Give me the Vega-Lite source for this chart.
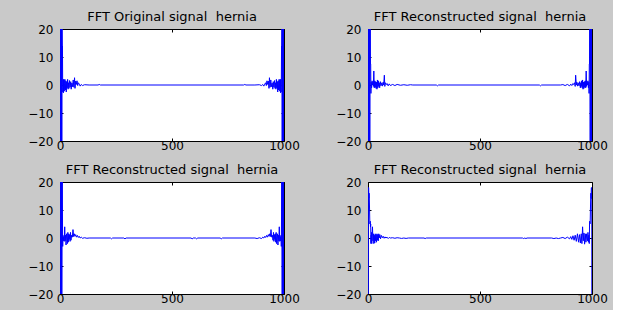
{
  "$schema": "https://vega.github.io/schema/vega-lite/v6.json",
  "background": "#c9c9c9",
  "padding": {"left": 27, "top": 10, "right": 5, "bottom": 5},
  "spacing": 11,
  "datasets": {
    "a": [
      {"x":1,"y":300},{"x":2,"y":-150},{"x":3,"y":120},{"x":4,"y":-90},{"x":5,"y":60},{"x":6,"y":-40},{"x":7,"y":30},{"x":8,"y":-25},{"x":9,"y":22},{"x":10,"y":14},{"x":11,"y":14},{"x":12,"y":-1},{"x":13,"y":-2.5},{"x":14,"y":1.8},{"x":15,"y":-2.8},{"x":16,"y":2},{"x":17,"y":-1.5},{"x":18,"y":1.9},{"x":19,"y":-2.2},{"x":20,"y":0.5},{"x":22,"y":2},{"x":24,"y":-1.8},{"x":26,"y":1.5},{"x":28,"y":-2.5},{"x":30,"y":1.2},{"x":32,"y":-1},{"x":34,"y":2},{"x":36,"y":-1.5},{"x":38,"y":0.8},{"x":40,"y":-1.2},{"x":42,"y":1.6},{"x":45,"y":-0.8},{"x":48,"y":1.2},{"x":50,"y":-1.5},{"x":53,"y":0.7},{"x":56,"y":-0.6},{"x":59,"y":1.8},{"x":62,"y":-0.8},{"x":65,"y":2.6},{"x":67,"y":-1.2},{"x":70,"y":1.4},{"x":73,"y":0.2},{"x":76,"y":1.5},{"x":79,"y":-0.2},{"x":82,"y":0.8},{"x":86,"y":0.3},{"x":90,"y":-0.4},{"x":95,"y":0.2},{"x":100,"y":-0.2},{"x":110,"y":0.1},{"x":130,"y":0},{"x":170,"y":0},{"x":175,"y":0.2},{"x":180,"y":0},{"x":500,"y":0},
      {"x":820,"y":0},{"x":825,"y":0.2},{"x":830,"y":0},{"x":870,"y":0},{"x":890,"y":0.1},{"x":900,"y":-0.2},{"x":905,"y":0.2},{"x":910,"y":-0.4},{"x":914,"y":0.3},{"x":918,"y":0.8},{"x":921,"y":-0.2},{"x":924,"y":1.5},{"x":927,"y":0.2},{"x":930,"y":1.4},{"x":933,"y":-1.2},{"x":935,"y":2.6},{"x":938,"y":-0.8},{"x":941,"y":1.8},{"x":944,"y":-0.6},{"x":947,"y":0.7},{"x":950,"y":-1.5},{"x":952,"y":1.2},{"x":955,"y":-0.8},{"x":958,"y":1.6},{"x":960,"y":-1.2},{"x":962,"y":0.8},{"x":964,"y":-1.5},{"x":966,"y":2},{"x":968,"y":-1},{"x":970,"y":1.2},{"x":972,"y":-2.5},{"x":974,"y":1.5},{"x":976,"y":-1.8},{"x":978,"y":2},{"x":980,"y":0.5},{"x":981,"y":-2.2},{"x":982,"y":1.9},{"x":983,"y":-1.5},{"x":984,"y":2},{"x":985,"y":-2.8},{"x":986,"y":1.8},{"x":987,"y":-2.5},{"x":988,"y":-1},{"x":989,"y":14},{"x":990,"y":14},{"x":991,"y":22},{"x":992,"y":-25},{"x":993,"y":30},{"x":994,"y":-40},{"x":995,"y":60},{"x":996,"y":-90},{"x":997,"y":120},{"x":998,"y":-150},{"x":999,"y":300},{"x":1000,"y":-150}
    ],
    "b": [
      {"x":1,"y":300},{"x":2,"y":-120},{"x":3,"y":-8},{"x":4,"y":90},{"x":5,"y":-60},{"x":6,"y":16},{"x":7,"y":40},{"x":8,"y":-30},{"x":9,"y":16},{"x":10,"y":25},{"x":11,"y":7.5},{"x":12,"y":7.5},{"x":13,"y":-3},{"x":14,"y":1},{"x":16,"y":-1},{"x":18,"y":1.5},{"x":20,"y":0},{"x":22,"y":1.2},{"x":24,"y":-0.5},{"x":26,"y":5},{"x":28,"y":-1},{"x":30,"y":1.5},{"x":32,"y":-0.8},{"x":34,"y":1.2},{"x":36,"y":-1.2},{"x":38,"y":1},{"x":40,"y":-1.5},{"x":42,"y":1.8},{"x":44,"y":-1},{"x":46,"y":1.5},{"x":48,"y":-0.5},{"x":50,"y":0.8},{"x":52,"y":-1},{"x":55,"y":1.2},{"x":58,"y":-0.3},{"x":62,"y":0.8},{"x":65,"y":-0.4},{"x":68,"y":1},{"x":70,"y":0},{"x":73,"y":3.5},{"x":75,"y":-0.5},{"x":78,"y":0.8},{"x":82,"y":0.2},{"x":86,"y":0.5},{"x":90,"y":-0.3},{"x":95,"y":0.4},{"x":100,"y":-0.2},{"x":110,"y":0.2},{"x":120,"y":-0.2},{"x":130,"y":0.2},{"x":145,"y":-0.1},{"x":160,"y":0.1},{"x":175,"y":-0.1},{"x":190,"y":0.1},{"x":200,"y":0},{"x":305,"y":0},{"x":310,"y":-0.3},{"x":315,"y":0},{"x":500,"y":0},
      {"x":765,"y":0},{"x":770,"y":-0.3},{"x":775,"y":0},{"x":860,"y":0},{"x":870,"y":0.15},{"x":880,"y":-0.2},{"x":890,"y":0.2},{"x":900,"y":-0.3},{"x":905,"y":0.3},{"x":910,"y":-0.2},{"x":914,"y":0.5},{"x":918,"y":0.2},{"x":922,"y":0.8},{"x":925,"y":-0.5},{"x":927,"y":3.5},{"x":930,"y":0},{"x":932,"y":1},{"x":935,"y":-0.4},{"x":938,"y":0.8},{"x":942,"y":-0.3},{"x":945,"y":1.2},{"x":948,"y":-1},{"x":950,"y":0.8},{"x":952,"y":-0.5},{"x":954,"y":1.5},{"x":956,"y":-1},{"x":958,"y":1.8},{"x":960,"y":-1.5},{"x":962,"y":1},{"x":964,"y":-1.2},{"x":966,"y":1.2},{"x":968,"y":-0.8},{"x":970,"y":1.5},{"x":972,"y":-1},{"x":974,"y":5},{"x":976,"y":-0.5},{"x":978,"y":1.2},{"x":980,"y":0},{"x":982,"y":1.5},{"x":984,"y":-1},{"x":986,"y":1},{"x":987,"y":-3},{"x":988,"y":7.5},{"x":989,"y":7.5},{"x":990,"y":25},{"x":991,"y":16},{"x":992,"y":-30},{"x":993,"y":40},{"x":994,"y":16},{"x":995,"y":-60},{"x":996,"y":90},{"x":997,"y":-8},{"x":998,"y":-120},{"x":999,"y":300},{"x":1000,"y":-120}
    ],
    "c": [
      {"x":1,"y":300},{"x":2,"y":-150},{"x":3,"y":16},{"x":4,"y":100},{"x":5,"y":-70},{"x":6,"y":16},{"x":7,"y":45},{"x":8,"y":-35},{"x":9,"y":8},{"x":10,"y":20},{"x":11,"y":7.5},{"x":12,"y":-3},{"x":13,"y":1},{"x":15,"y":-1},{"x":17,"y":0.5},{"x":19,"y":-1.2},{"x":21,"y":4},{"x":23,"y":-1},{"x":25,"y":1},{"x":27,"y":-2.5},{"x":29,"y":1.5},{"x":31,"y":0},{"x":33,"y":-2},{"x":35,"y":2},{"x":37,"y":-1.5},{"x":39,"y":1.5},{"x":41,"y":-0.5},{"x":43,"y":1.2},{"x":45,"y":-1.2},{"x":47,"y":2},{"x":49,"y":-0.8},{"x":52,"y":1},{"x":55,"y":0.3},{"x":58,"y":3},{"x":61,"y":0.5},{"x":64,"y":1.5},{"x":67,"y":0.6},{"x":70,"y":1.2},{"x":74,"y":0.3},{"x":78,"y":0.9},{"x":82,"y":0.2},{"x":86,"y":0.6},{"x":90,"y":0},{"x":95,"y":0.3},{"x":100,"y":-0.1},{"x":110,"y":0.1},{"x":120,"y":-0.1},{"x":130,"y":0},{"x":225,"y":0},{"x":230,"y":-0.3},{"x":235,"y":0},{"x":285,"y":0},{"x":290,"y":-0.3},{"x":295,"y":0},{"x":500,"y":0},
      {"x":585,"y":0},{"x":590,"y":-0.3},{"x":595,"y":0},{"x":605,"y":0},{"x":610,"y":-0.3},{"x":615,"y":0},{"x":715,"y":0},{"x":720,"y":-0.3},{"x":725,"y":0},{"x":870,"y":0},{"x":880,"y":-0.2},{"x":890,"y":0.1},{"x":900,"y":-0.2},{"x":905,"y":0.3},{"x":910,"y":0},{"x":914,"y":0.6},{"x":918,"y":0.2},{"x":922,"y":0.9},{"x":926,"y":0.3},{"x":930,"y":1.2},{"x":933,"y":0.6},{"x":936,"y":1.5},{"x":939,"y":0.5},{"x":942,"y":3},{"x":945,"y":0.3},{"x":948,"y":1},{"x":951,"y":-0.8},{"x":953,"y":2},{"x":955,"y":-1.2},{"x":957,"y":1.2},{"x":959,"y":-0.5},{"x":961,"y":1.5},{"x":963,"y":-1.5},{"x":965,"y":2},{"x":967,"y":-2},{"x":969,"y":0},{"x":971,"y":1.5},{"x":973,"y":-2.5},{"x":975,"y":1},{"x":977,"y":-1},{"x":979,"y":4},{"x":981,"y":-1.2},{"x":983,"y":0.5},{"x":985,"y":-1},{"x":987,"y":1},{"x":988,"y":-3},{"x":989,"y":7.5},{"x":990,"y":20},{"x":991,"y":8},{"x":992,"y":-35},{"x":993,"y":45},{"x":994,"y":16},{"x":995,"y":-70},{"x":996,"y":100},{"x":997,"y":16},{"x":998,"y":-150},{"x":999,"y":300},{"x":1000,"y":-15}
    ],
    "d": [
      {"x":1,"y":-120},{"x":2,"y":18},{"x":3,"y":18},{"x":4,"y":14},{"x":5,"y":16},{"x":6,"y":14},{"x":7,"y":10},{"x":8,"y":6},{"x":9,"y":5},{"x":10,"y":6},{"x":11,"y":4},{"x":12,"y":5},{"x":13,"y":-2},{"x":14,"y":1},{"x":15,"y":-1.5},{"x":16,"y":2},{"x":17,"y":-2},{"x":18,"y":0.5},{"x":20,"y":4},{"x":22,"y":-1},{"x":24,"y":1.5},{"x":26,"y":-2},{"x":28,"y":1},{"x":30,"y":-1.8},{"x":32,"y":1.5},{"x":34,"y":-1},{"x":36,"y":1.2},{"x":38,"y":-1.5},{"x":40,"y":1.5},{"x":42,"y":-0.8},{"x":44,"y":1.2},{"x":46,"y":-1},{"x":48,"y":1.5},{"x":50,"y":0},{"x":53,"y":1.2},{"x":56,"y":-0.3},{"x":60,"y":0.9},{"x":64,"y":0.1},{"x":68,"y":0.6},{"x":72,"y":-0.1},{"x":76,"y":0.4},{"x":80,"y":0},{"x":85,"y":0.3},{"x":90,"y":-0.2},{"x":95,"y":0.2},{"x":100,"y":0},{"x":110,"y":0.1},{"x":120,"y":-0.1},{"x":130,"y":0.1},{"x":140,"y":0},{"x":150,"y":-0.15},{"x":160,"y":0},{"x":170,"y":-0.15},{"x":180,"y":0},{"x":250,"y":0},{"x":255,"y":-0.2},{"x":260,"y":0},{"x":500,"y":0},
      {"x":690,"y":0},{"x":695,"y":-0.2},{"x":700,"y":0},{"x":705,"y":-0.2},{"x":710,"y":0},{"x":820,"y":0},{"x":830,"y":-0.2},{"x":840,"y":0},{"x":850,"y":-0.2},{"x":860,"y":0},{"x":870,"y":0.2},{"x":880,"y":-0.2},{"x":890,"y":0.3},{"x":900,"y":-0.3},{"x":905,"y":0.5},{"x":910,"y":-0.5},{"x":915,"y":0.8},{"x":920,"y":-0.8},{"x":925,"y":1},{"x":930,"y":-1.2},{"x":935,"y":1.5},{"x":940,"y":-1.5},{"x":944,"y":1.2},{"x":948,"y":-1.8},{"x":952,"y":1.5},{"x":955,"y":-2},{"x":958,"y":4},{"x":961,"y":-1},{"x":964,"y":1.8},{"x":967,"y":-2.2},{"x":970,"y":1.5},{"x":973,"y":-1.5},{"x":976,"y":1.5},{"x":978,"y":0},{"x":980,"y":-1},{"x":982,"y":2},{"x":984,"y":-1.5},{"x":986,"y":1},{"x":988,"y":-2},{"x":989,"y":5},{"x":990,"y":6},{"x":991,"y":5},{"x":992,"y":6},{"x":993,"y":10},{"x":994,"y":14},{"x":995,"y":16},{"x":996,"y":14},{"x":997,"y":18},{"x":998,"y":18},{"x":999,"y":18},{"x":1000,"y":-120}
    ]
  },
  "vconcat": [
    {
      "spacing": 35,
      "hconcat": [
        {
          "title": "FFT Original signal\u00a0 hernia",
          "width": 224, "height": 112,
          "data": {"name": "a"},
          "layer": [
            {"mark": {"type": "line", "clip": true, "color": "#0000ff", "strokeWidth": 1},
             "encoding": {
               "x": {"field": "x", "type": "quantitative", "scale": {"domain": [0, 1000], "nice": false}, "axis": {"values": [0, 500, 1000], "format": "d", "title": null}},
               "y": {"field": "y", "type": "quantitative", "scale": {"domain": [-20, 20], "nice": false}, "axis": {"values": [-20, -10, 0, 10, 20], "title": null}}}},
            {"mark": {"type": "point", "clip": true, "opacity": 0},
             "encoding": {
               "x": {"field": "x", "type": "quantitative", "axis": {"orient": "top", "values": [0, 500, 1000], "labels": false, "title": null}},
               "y": {"field": "y", "type": "quantitative", "axis": {"orient": "right", "values": [-20, -10, 0, 10, 20], "labels": false, "title": null}}}}
          ],
          "resolve": {"axis": {"x": "independent", "y": "independent"}}
        },
        {
          "title": "FFT Reconstructed signal\u00a0 hernia",
          "width": 224, "height": 112,
          "data": {"name": "b"},
          "layer": [
            {"mark": {"type": "line", "clip": true, "color": "#0000ff", "strokeWidth": 1},
             "encoding": {
               "x": {"field": "x", "type": "quantitative", "scale": {"domain": [0, 1000], "nice": false}, "axis": {"values": [0, 500, 1000], "format": "d", "title": null}},
               "y": {"field": "y", "type": "quantitative", "scale": {"domain": [-20, 20], "nice": false}, "axis": {"values": [-20, -10, 0, 10, 20], "title": null}}}},
            {"mark": {"type": "point", "clip": true, "opacity": 0},
             "encoding": {
               "x": {"field": "x", "type": "quantitative", "axis": {"orient": "top", "values": [0, 500, 1000], "labels": false, "title": null}},
               "y": {"field": "y", "type": "quantitative", "axis": {"orient": "right", "values": [-20, -10, 0, 10, 20], "labels": false, "title": null}}}}
          ],
          "resolve": {"axis": {"x": "independent", "y": "independent"}}
        }
      ]
    },
    {
      "spacing": 35,
      "hconcat": [
        {
          "title": "FFT Reconstructed signal\u00a0 hernia",
          "width": 224, "height": 112,
          "data": {"name": "c"},
          "layer": [
            {"mark": {"type": "line", "clip": true, "color": "#0000ff", "strokeWidth": 1},
             "encoding": {
               "x": {"field": "x", "type": "quantitative", "scale": {"domain": [0, 1000], "nice": false}, "axis": {"values": [0, 500, 1000], "format": "d", "title": null}},
               "y": {"field": "y", "type": "quantitative", "scale": {"domain": [-20, 20], "nice": false}, "axis": {"values": [-20, -10, 0, 10, 20], "title": null}}}},
            {"mark": {"type": "point", "clip": true, "opacity": 0},
             "encoding": {
               "x": {"field": "x", "type": "quantitative", "axis": {"orient": "top", "values": [0, 500, 1000], "labels": false, "title": null}},
               "y": {"field": "y", "type": "quantitative", "axis": {"orient": "right", "values": [-20, -10, 0, 10, 20], "labels": false, "title": null}}}}
          ],
          "resolve": {"axis": {"x": "independent", "y": "independent"}}
        },
        {
          "title": "FFT Reconstructed signal\u00a0 hernia",
          "width": 224, "height": 112,
          "data": {"name": "d"},
          "layer": [
            {"mark": {"type": "line", "clip": true, "color": "#0000ff", "strokeWidth": 1},
             "encoding": {
               "x": {"field": "x", "type": "quantitative", "scale": {"domain": [0, 1000], "nice": false}, "axis": {"values": [0, 500, 1000], "format": "d", "title": null}},
               "y": {"field": "y", "type": "quantitative", "scale": {"domain": [-20, 20], "nice": false}, "axis": {"values": [-20, -10, 0, 10, 20], "title": null}}}},
            {"mark": {"type": "point", "clip": true, "opacity": 0},
             "encoding": {
               "x": {"field": "x", "type": "quantitative", "axis": {"orient": "top", "values": [0, 500, 1000], "labels": false, "title": null}},
               "y": {"field": "y", "type": "quantitative", "axis": {"orient": "right", "values": [-20, -10, 0, 10, 20], "labels": false, "title": null}}}}
          ],
          "resolve": {"axis": {"x": "independent", "y": "independent"}}
        }
      ]
    }
  ],
  "config": {
    "view": {"fill": "white", "stroke": "black", "strokeWidth": 1},
    "axis": {
      "grid": false,
      "domain": false,
      "ticks": true,
      "tickSize": -3,
      "tickColor": "black",
      "labelFont": "DejaVu Sans",
      "labelFontSize": 12,
      "labelColor": "black",
      "labelPadding": 10,
      "labelFlush": false,
      "labelOverlap": false
    },
    "axisX": {"labelPadding": 2},
    "title": {"font": "DejaVu Sans", "fontSize": 13, "fontWeight": "normal", "color": "black", "offset": -1, "anchor": "middle"}
  }
}
